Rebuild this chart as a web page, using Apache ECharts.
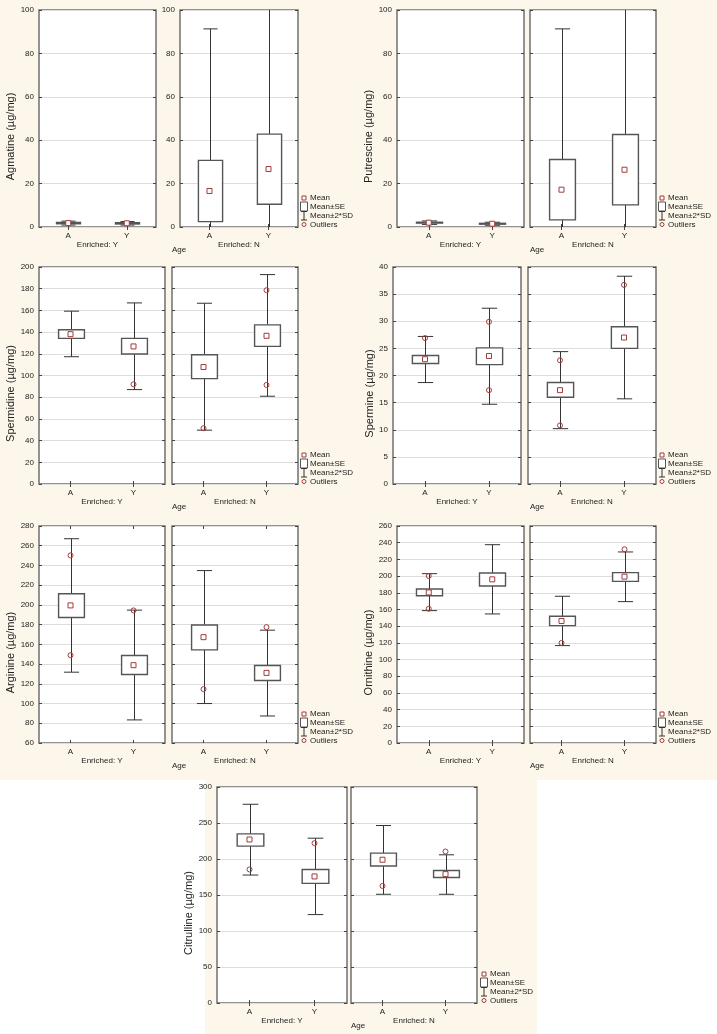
<!DOCTYPE html>
<html><head><meta charset="utf-8">
<script src="https://cdn.jsdelivr.net/npm/echarts@6/dist/echarts.min.js"></script>
<style>
html,body{margin:0;padding:0;background:#fff;}
#wrap{position:relative;width:717px;height:1034px;overflow:hidden;}
.bg{position:absolute;}
#chart{position:absolute;left:0;top:0;width:717px;height:1034px;}
</style></head><body>
<div id="wrap">
<div class="bg" style="left:0;top:0;width:717px;height:780px;background:#fcf7ea"></div>
<div class="bg" style="left:205px;top:780px;width:332px;height:254px;background:#fcf7ea"></div>
<div id="chart"></div>
</div>
<script>
// ---------- data ----------
const categories = ['A', 'Y'];
const enrichedLabels = ['Enriched: Y', 'Enriched: N'];
const ageLabel = 'Age';
const legendLabels = ['Mean', 'Mean±SE', 'Mean±2*SD', 'Outliers'];

// axis ranges (tick labels): [min, max, step]
const agmatineTicks = [0, 100, 20];
const putrescineTicks = [0, 100, 20];
const spermidineTicks = [0, 200, 20];
const spermineTicks = [0, 40, 5];
const arginineTicks = [60, 280, 20];
const ornithineTicks = [0, 260, 20];
const citrullineTicks = [0, 300, 50];

// per age (A, Y): [mean-2*SD, mean-SE, mean, mean+SE, mean+2*SD]
const agmatineEnrY = [[0.9, 1.5, 1.8, 2.1, 2.7], [0.9, 1.4, 1.7, 2.0, 2.5]];
const agmatineEnrN = [[-58.1, 2.5, 16.6, 30.7, 91.3], [-58.5, 10.5, 26.7, 42.8, 111.9]];
const agmatineOutY = [];
const agmatineOutN = [];

const putrescineEnrY = [[1.2, 1.8, 2.0, 2.2, 2.8], [0.8, 1.3, 1.5, 1.7, 2.2]];
const putrescineEnrN = [[-56.9, 3.3, 17.2, 31.1, 91.3], [-58.0, 10.2, 26.4, 42.6, 110.8]];
const putrescineOutY = [];
const putrescineOutN = [];

const spermidineEnrY = [[117.3, 134.2, 138.1, 142.1, 159.3], [87.0, 119.8, 126.8, 134.2, 166.9]];
const spermidineEnrN = [[49.6, 97.1, 107.8, 119.1, 166.6], [80.9, 126.8, 136.6, 146.7, 193.0]];
const spermidineOutY = [[1, 91.9]];
const spermidineOutN = [[0, 51.4], [1, 178.6], [1, 91.3]];

const spermineEnrY = [[18.7, 22.2, 23.0, 23.7, 27.2], [14.7, 22.0, 23.6, 25.1, 32.4]];
const spermineEnrN = [[10.2, 16.0, 17.3, 18.7, 24.4], [15.7, 25.0, 27.0, 29.0, 38.3]];
const spermineOutY = [[0, 26.9], [1, 29.9], [1, 17.3]];
const spermineOutN = [[0, 22.8], [0, 10.8], [1, 36.7]];

const arginineEnrY = [[131.8, 187.3, 199.5, 211.3, 267.1], [83.4, 129.4, 138.9, 148.7, 194.7]];
const arginineEnrN = [[100.0, 154.4, 167.3, 179.7, 234.8], [87.4, 123.3, 131.1, 138.5, 174.4]];
const arginineOutY = [[0, 250.2], [0, 149.0], [1, 194.4]];
const arginineOutN = [[0, 114.6], [1, 177.5]];

const ornithineEnrY = [[158.6, 176.4, 180.4, 184.5, 202.9], [154.6, 188.1, 196.1, 203.7, 237.6]];
const ornithineEnrN = [[116.7, 140.6, 146.2, 151.8, 175.8], [169.4, 193.7, 199.3, 204.1, 228.9]];
const ornithineOutY = [[0, 200.1], [0, 160.9]];
const ornithineOutN = [[0, 119.9], [1, 232.1]];

const citrullineEnrY = [[177.7, 217.9, 227.1, 234.9, 276.0], [122.8, 166.2, 175.8, 185.5, 228.9]];
const citrullineEnrN = [[151.0, 190.2, 199.0, 208.2, 246.5], [151.0, 174.4, 179.0, 184.1, 205.8]];
const citrullineOutY = [[0, 185.5], [1, 222.0]];
const citrullineOutN = [[0, 162.6], [1, 210.4]];

const charts = [
  { title: 'Agmatine (µg/mg)', ticks: agmatineTicks, stats: [agmatineEnrY, agmatineEnrN], out: [agmatineOutY, agmatineOutN] },
  { title: 'Putrescine (µg/mg)', ticks: putrescineTicks, stats: [putrescineEnrY, putrescineEnrN], out: [putrescineOutY, putrescineOutN] },
  { title: 'Spermidine (µg/mg)', ticks: spermidineTicks, stats: [spermidineEnrY, spermidineEnrN], out: [spermidineOutY, spermidineOutN] },
  { title: 'Spermine (µg/mg)', ticks: spermineTicks, stats: [spermineEnrY, spermineEnrN], out: [spermineOutY, spermineOutN] },
  { title: 'Arginine (µg/mg)', ticks: arginineTicks, stats: [arginineEnrY, arginineEnrN], out: [arginineOutY, arginineOutN] },
  { title: 'Ornithine (µg/mg)', ticks: ornithineTicks, stats: [ornithineEnrY, ornithineEnrN], out: [ornithineOutY, ornithineOutN] },
  { title: 'Citrulline (µg/mg)', ticks: citrullineTicks, stats: [citrullineEnrY, citrullineEnrN], out: [citrullineOutY, citrullineOutN] }
];

// ---------- layout ----------
const frames = [
  { top: 10,  h: 217, cols: [[39, 156], [180, 298]], lx: 304, ageX: 179, labelsBoth: true, nameGap: 21 },
  { top: 10,  h: 217, cols: [[397, 524], [530, 656]], lx: 662, ageX: 537, nameGap: 21 },
  { top: 267, h: 217, cols: [[39, 165], [172, 298]], lx: 304, ageX: 179, nameGap: 21 },
  { top: 267, h: 217, cols: [[393, 521], [528, 656]], lx: 662, ageX: 537, nameGap: 18 },
  { top: 526, h: 217, cols: [[39, 165], [172, 298]], lx: 304, ageX: 179, nameGap: 21 },
  { top: 526, h: 217, cols: [[397, 524], [530, 656]], lx: 662, ageX: 537, nameGap: 21 },
  { top: 787, h: 216, cols: [[217, 347], [351, 477]], lx: 484, ageX: 358, nameGap: 21 }
];

const FONT = 'Liberation Sans, Arial, sans-serif';
const RED = '#a33a3a';
const TXT = '#222';

function renderBox(params, api) {
  const x = api.value(0);
  const band = api.size([1, 0])[0];
  const bw = band * 0.41, cw = band * 0.24;
  const wl = api.coord([x, api.value(1)]);
  const sl = api.coord([x, api.value(2)]);
  const sh = api.coord([x, api.value(4)]);
  const wh = api.coord([x, api.value(5)]);
  const cx = Math.round(wl[0]) + 0.5;
  const ls = { stroke: '#333', lineWidth: 1 };
  return {
    type: 'group',
    children: [
      { type: 'line', shape: { x1: cx, y1: wh[1], x2: cx, y2: sh[1] }, style: ls },
      { type: 'line', shape: { x1: cx, y1: sl[1], x2: cx, y2: wl[1] }, style: ls },
      { type: 'line', shape: { x1: cx - cw / 2, y1: wh[1], x2: cx + cw / 2, y2: wh[1] }, style: ls },
      { type: 'line', shape: { x1: cx - cw / 2, y1: wl[1], x2: cx + cw / 2, y2: wl[1] }, style: ls },
      { type: 'rect', shape: { x: cx - bw / 2, y: sh[1], width: bw, height: sl[1] - sh[1] },
        style: { fill: '#fff', stroke: '#555', lineWidth: 1.4 } }
    ]
  };
}

const grid = [], xAxis = [], yAxis = [], series = [], graphic = [];
const xAxisTop = [], yAxisRight = [];

charts.forEach((c, ci) => {
  const f = frames[ci];
  c.stats.forEach((st, si) => {
    const gi = grid.length;
    const [x0, x1] = f.cols[si];
    grid.push({ left: x0, top: f.top, width: x1 - x0, height: f.h, show: true,
      backgroundColor: '#fff', borderColor: '#707070', borderWidth: 1.5, containLabel: false, outerBoundsMode: 'none' });
    xAxis.push({ gridIndex: gi, type: 'category', data: categories, boundaryGap: true, position: 'bottom',
      name: enrichedLabels[si], nameLocation: 'middle', nameGap: 11,
      nameTextStyle: { fontSize: 8, color: TXT, fontFamily: FONT },
      axisLine: { show: false },
      axisTick: { show: true, inside: true, alignWithLabel: true, length: 3, lineStyle: { color: '#444' } },
      axisLabel: { fontSize: 8, color: TXT, margin: 5, fontFamily: FONT },
      splitLine: { show: false } });
    xAxisTop.push({ gridIndex: gi, type: 'category', data: categories, boundaryGap: true, position: 'top',
      axisLine: { show: false },
      axisTick: { show: true, inside: true, alignWithLabel: true, length: 3, lineStyle: { color: '#444' } },
      axisLabel: { show: false }, splitLine: { show: false } });
    const showLabels = si === 0 || f.labelsBoth;
    yAxis.push({ gridIndex: gi, type: 'value', min: c.ticks[0], max: c.ticks[1], interval: c.ticks[2], position: 'left',
      name: si === 0 ? c.title : '', nameLocation: 'middle', nameGap: f.nameGap,
      nameTextStyle: { fontSize: 11, color: TXT, fontFamily: FONT, padding: [0, 36, 0, 0] },
      axisLine: { show: false },
      axisTick: { show: true, inside: true, length: 3, lineStyle: { color: '#444' } },
      axisLabel: { show: showLabels, fontSize: 8, color: TXT, margin: 5, fontFamily: FONT },
      splitLine: { show: true, lineStyle: { color: '#dedede', width: 1 } } });
    yAxisRight.push({ gridIndex: gi, type: 'value', min: c.ticks[0], max: c.ticks[1], interval: c.ticks[2], position: 'right',
      axisLine: { show: false },
      axisTick: { show: true, inside: true, length: 3, lineStyle: { color: '#444' } },
      axisLabel: { show: false }, splitLine: { show: false } });
    series.push({ type: 'custom', name: 'Mean±SE', xAxisIndex: gi, yAxisIndex: gi, clip: true,
      renderItem: renderBox, data: st.map((s, k) => [k].concat(s)), z: 2, silent: true });
    series.push({ type: 'scatter', name: 'Mean', xAxisIndex: gi, yAxisIndex: gi,
      data: st.map((s, k) => [k, s[2]]), symbol: 'rect', symbolSize: 5,
      itemStyle: { color: '#fff', borderColor: RED, borderWidth: 1, opacity: 1 }, z: 3, silent: true });
    series.push({ type: 'scatter', name: 'Outliers', xAxisIndex: gi, yAxisIndex: gi,
      data: c.out[si], symbol: 'circle', symbolSize: 5,
      itemStyle: { color: 'rgba(0,0,0,0)', borderColor: RED, borderWidth: 1, opacity: 1 }, z: 4, silent: true });
  });
  const bottom = f.top + f.h;
  graphic.push({ type: 'text', left: f.ageX - 7, top: bottom + 19,
    style: { text: ageLabel, fontSize: 8, fill: TXT, fontFamily: FONT } });
  // legend
  const y0 = bottom - 29;
  graphic.push({ type: 'group', x: f.lx, y: y0, children: [
    { type: 'rect', shape: { x: -2, y: -2, width: 4, height: 4 }, style: { fill: '#fff', stroke: RED, lineWidth: 1 } },
    { type: 'text', x: 6, y: 0, style: { text: legendLabels[0], fontSize: 8, fill: TXT, fontFamily: FONT, verticalAlign: 'middle' } },
    { type: 'rect', shape: { x: -3.5, y: 4, width: 7, height: 9 }, style: { fill: '#fff', stroke: '#555', lineWidth: 1 } },
    { type: 'text', x: 6, y: 8.5, style: { text: legendLabels[1], fontSize: 8, fill: TXT, fontFamily: FONT, verticalAlign: 'middle' } },
    { type: 'line', shape: { x1: 0, y1: 13.5, x2: 0, y2: 22 }, style: { stroke: '#333', lineWidth: 1 } },
    { type: 'line', shape: { x1: -3, y1: 13.5, x2: 3, y2: 13.5 }, style: { stroke: '#333', lineWidth: 1 } },
    { type: 'line', shape: { x1: -3, y1: 22, x2: 3, y2: 22 }, style: { stroke: '#333', lineWidth: 1 } },
    { type: 'text', x: 6, y: 17.5, style: { text: legendLabels[2], fontSize: 8, fill: TXT, fontFamily: FONT, verticalAlign: 'middle' } },
    { type: 'circle', shape: { cx: 0, cy: 26.5, r: 2 }, style: { fill: 'none', stroke: RED, lineWidth: 1 } },
    { type: 'text', x: 6, y: 26.5, style: { text: legendLabels[3], fontSize: 8, fill: TXT, fontFamily: FONT, verticalAlign: 'middle' } }
  ]});
});

const chart = echarts.init(document.getElementById('chart'), null, { renderer: 'canvas' });
chart.setOption({
  backgroundColor: 'transparent',
  animation: false,
  grid,
  xAxis: xAxis.concat(xAxisTop),
  yAxis: yAxis.concat(yAxisRight),
  series, graphic
});
</script>
</body></html>
